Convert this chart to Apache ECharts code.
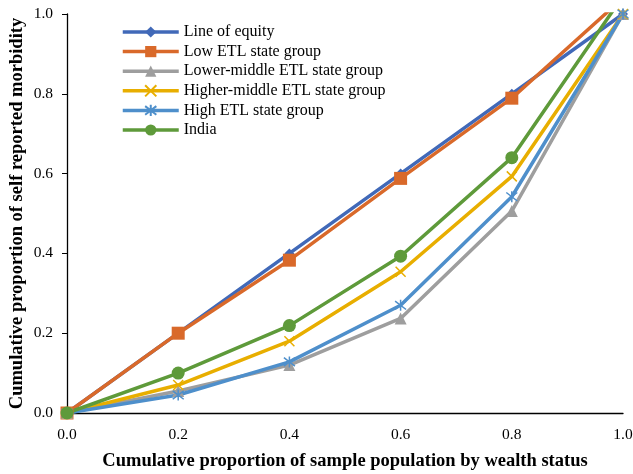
<!DOCTYPE html>
<html>
<head>
<meta charset="utf-8">
<script src="https://cdn.jsdelivr.net/npm/echarts@6/dist/echarts.min.js"></script>
<style>
  html, body { margin: 0; padding: 0; background: #fff; }
  #chart { width: 633px; height: 474px; }
</style>
</head>
<body>
<div id="chart"></div>
<script>
// Cumulative share of population (ranked by wealth)
const wealthShare = [0, 0.2, 0.4, 0.6, 0.8, 1.0];
const xTicks = ['0.0', '0.2', '0.4', '0.6', '0.8', '1.0'];
const yTicks = ['0.0', '0.2', '0.4', '0.6', '0.8', '1.0'];

// Concentration curves: cumulative share of self reported morbidity
const lineOfEquity     = [0, 0.2, 0.4, 0.6, 0.8, 1.0];
const lowETL           = [0, 0.2, 0.383, 0.588, 0.789, 1.04];
const lowerMiddleETL   = [0, 0.055, 0.12, 0.237, 0.506, 1.0];
const higherMiddleETL  = [0, 0.07, 0.18, 0.354, 0.593, 1.0];
const highETL          = [0, 0.045, 0.128, 0.27, 0.542, 1.0];
const india            = [0, 0.1, 0.219, 0.393, 0.64, 1.045];

const seriesNames = [
  'Line of equity',
  'Low ETL state group',
  'Lower-middle ETL state group',
  'Higher-middle ETL state group',
  'High ETL state group',
  'India'
];

const FONT = '"Liberation Serif", "Times New Roman", serif';

const pairs = vals => wealthShare.map((x, i) => [x, vals[i]]);

const crossPath = 'path://M0,0L10,10M10,0L0,10';
const starPath = 'path://M0,0L10,10M10,0L0,10M5,-1.5L5,11.5';

function lineSeries(name, vals, color, symbol, size, extra) {
  return Object.assign({
    name: name,
    type: 'line',
    data: pairs(vals),
    symbol: symbol,
    symbolSize: size,
    showAllSymbol: true,
    clip: true,
    lineStyle: { color: color, width: 3.5 },
    itemStyle: { color: color },
    emphasis: { disabled: true }
  }, extra || {});
}

const chart = echarts.init(document.getElementById('chart'), null, { renderer: 'canvas' });

chart.setOption({
  animation: false,
  backgroundColor: '#ffffff',
  textStyle: { fontFamily: FONT },
  grid: { left: 67, right: 10, top: 14, bottom: 61, containLabel: false, outerBoundsMode: 'none' },
  legend: {
    orient: 'vertical',
    left: 116,
    top: 19,
    itemWidth: 56,
    itemHeight: 14,
    itemGap: 3.6,
    lineStyle: { width: 3.5 },
    textStyle: { fontFamily: FONT, fontSize: 16, lineHeight: 16, color: '#000' },
    data: seriesNames
  },
  xAxis: {
    type: 'value',
    min: 0,
    max: 1,
    interval: 0.2,
    name: 'Cumulative proportion of sample population by wealth status',
    nameLocation: 'middle',
    nameGap: 39,
    nameTextStyle: { fontFamily: FONT, fontSize: 18.5, fontWeight: 'bold', color: '#000' },
    axisLine: { lineStyle: { color: '#000', width: 1.3 } },
    axisTick: { show: false },
    splitLine: { show: false },
    axisLabel: {
      color: '#000', fontFamily: FONT, fontSize: 15.5, margin: 14,
      formatter: v => xTicks[Math.round(v / 0.2)]
    }
  },
  yAxis: {
    type: 'value',
    min: 0,
    max: 1,
    interval: 0.2,
    name: 'Cumulative proportion of self reported morbidity',
    nameLocation: 'middle',
    nameGap: 40,
    nameMoveOverlap: false,
    nameTextStyle: { fontFamily: FONT, fontSize: 18.5, fontWeight: 'bold', color: '#000' },
    axisLine: { show: true, lineStyle: { color: '#000', width: 1.3 } },
    axisTick: { show: true, inside: false, length: 5, lineStyle: { color: '#000' } },
    splitLine: { show: false },
    axisLabel: {
      color: '#000', fontFamily: FONT, fontSize: 15.5, margin: 14,
      formatter: v => yTicks[Math.round(v / 0.2)]
    }
  },
  series: [
    lineSeries(seriesNames[0], lineOfEquity, '#4169B8', 'diamond', 10),
    lineSeries(seriesNames[1], lowETL, '#D9692A', 'rect', 13),
    lineSeries(seriesNames[2], lowerMiddleETL, '#9E9E9E', 'triangle', 12),
    lineSeries(seriesNames[3], higherMiddleETL, '#E8AE00', crossPath, 10, {
      itemStyle: { color: '#E8AE00', borderColor: '#E8AE00', borderWidth: 1.5 }
    }),
    lineSeries(seriesNames[4], highETL, '#4E8FCB', starPath, 11, {
      itemStyle: { color: '#4E8FCB', borderColor: '#4E8FCB', borderWidth: 1.5 }
    }),
    lineSeries(seriesNames[5], india, '#5E9A3A', 'circle', 13)
  ]
});
</script>
</body>
</html>
